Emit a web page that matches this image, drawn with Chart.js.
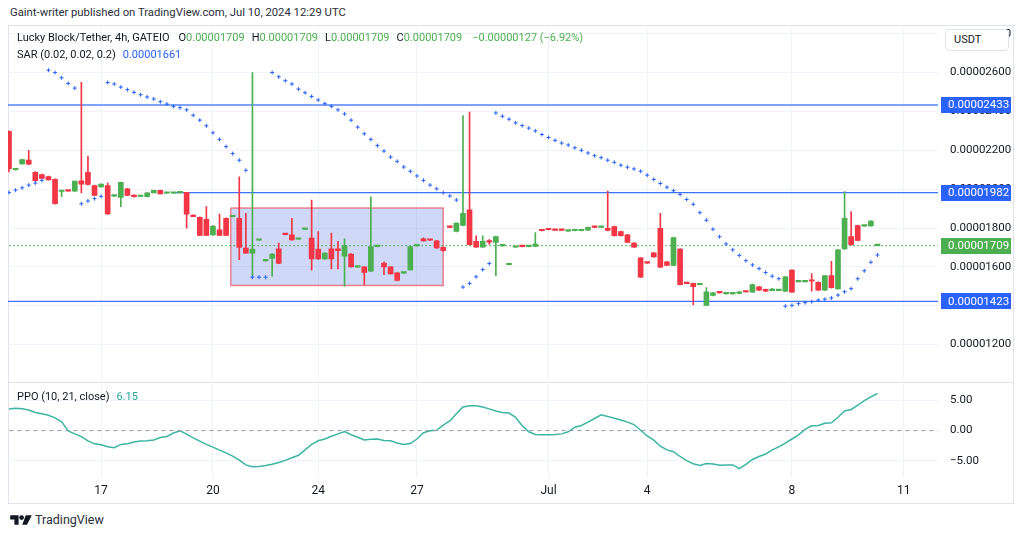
<!DOCTYPE html>
<html>
<head>
<meta charset="utf-8">
<script src="https://cdn.jsdelivr.net/npm/chart.js@4.4.1/dist/chart.umd.min.js"></script>
<style>
  body { margin: 0; width: 1024px; height: 536px; background: #fff; position: relative; overflow: hidden;
         font-family: Roboto, "Open Sans", sans-serif; color: #131722; }
  .abs { position: absolute; white-space: nowrap; }
  #frame { left: 8px; top: 25px; width: 1006px; height: 479px; border: 1px solid #e0e3eb; box-sizing: border-box; }
  #sep { left: 8px; top: 382px; width: 1006px; height: 1px; background: #e0e3eb; }
  #mainWrap { left: 8px; top: 25px; }
  #ppoWrap { left: 8px; top: 383px; }
  .g { color: #4caf50; font-style: normal; }
  .leg { font-size: 11px; color: #131722; }
  .leg span { margin-left: 7px; }
  #usdt { left: 945px; top: 29px; width: 64px; height: 22px; border: 1px solid #e0e3eb; border-radius: 4px;
          box-sizing: border-box; font-size: 11px; line-height: 20px; padding-left: 8px; background: #fff; }
</style>
</head>
<body>
<div class="abs" style="left:10px;top:6px;font-size:11.3px;color:#2a2e39">Gaint-writer published on TradingView.com, Jul 10, 2024 12:29 UTC</div>
<div class="abs" id="frame"></div>
<div class="abs" id="mainWrap"><canvas id="main" width="1005" height="357"></canvas></div>
<div class="abs" id="ppoWrap"><canvas id="ppo" width="1005" height="120"></canvas></div>
<div class="abs" id="sep"></div>
<div class="abs leg" style="left:17px;top:31px">Lucky Block/Tether, 4h, GATEIO<span style="margin-left:9px">O<i class="g">0.00001709</i></span><span>H<i class="g">0.00001709</i></span><span>L<i class="g">0.00001709</i></span><span>C<i class="g">0.00001709</i></span><span class="g" style="margin-left:10px">−0.00000127 (−6.92%)</span></div>
<div class="abs leg" style="left:17px;top:48px">SAR (0.02, 0.02, 0.2)<span style="color:#2962ff">0.00001661</span></div>
<div class="abs leg" style="left:17px;top:390px">PPO (10, 21, close)<span style="color:#26a69a">6.15</span></div>
<div class="abs" id="usdt">USDT</div>
<div class="abs" style="left:10px;top:512px;font-size:12.5px;color:#2a2e39;display:flex;align-items:center">
  <svg width="22" height="12" viewBox="0 0 36 20"><path d="M0 2h14v16H7V9H0z" fill="#131722"/><circle cx="19" cy="6" r="4" fill="#131722"/><path d="M26 2h10l-8 16h-8z" fill="#131722"/></svg>
  <span style="margin-left:3px">TradingView</span>
</div>
<script>
// prices in units of 1e-8 USDT, one entry per 4h bar
const opens = [2297,2100,2130,2149,2087,2075,2065,2051,1988,1993,1990,2043,2087,2019,2012,2019,1964,1958,2002,1970,
  1962,1961,1981,1994,1979,1979,1981,1983,1867,1855,1845,1764,1791,1850,1858,1850,1697,1671,1737,1631,
  1644,1693,1768,1765,1742,1793,1748,1692,1641,1693,1693,1655,1666,1599,1600,1578,1704,1620,1600,1569,
  1568,1585,1708,1745,1739,1734,1700,1805,1782,1813,1893,1731,1702,1729,1726,1708,1611,1701,1706,1704,
  1705,1788,1793,1790,1790,1784,1786,1786,1789,1805,1803,1799,1808,1782,1765,1723,1646,1621,1672,1799,
  1626,1608,1692,1516,1515,1508,1402,1453,1468,1461,1461,1463,1473,1470,1498,1484,1478,1478,1475,1583,
  1523,1523,1528,1521,1480,1555,1487,1692,1756,1813,1810,1811,1709];
const highs = [2300,2106,2155,2200,2090,2077,2067,2053,1993,1994,2042,2549,2169,2021,2027,2032,1968,2037,2004,1971,
  1965,1982,1995,1995,1982,1982,1984,1984,1868,1857,1910,1813,1872,1852,1861,2063,1876,2600,1740,1634,
  1668,1723,1769,1850,1745,1796,1944,1782,1673,1774,1731,1745,1668,1602,1602,1961,1707,1625,1602,1571,
  1571,1707,1711,1750,1740,1736,1702,1806,1827,2379,2396,1760,1760,1740,1758,1711,1614,1704,1707,1707,
  1777,1789,1799,1791,1791,1787,1789,1789,1805,1806,1806,1990,1810,1784,1767,1725,1648,1622,1674,1876,
  1628,1753,1694,1517,1517,1511,1493,1469,1469,1464,1464,1474,1474,1511,1500,1486,1490,1481,1551,1585,
  1526,1526,1565,1523,1557,1629,1690,1987,1885,1815,1813,1838,1709];
const lows = [2089,2098,2128,2126,2040,2053,2046,1923,1961,1989,1988,1981,2020,1966,2010,1870,1963,1910,1966,1959,
  1961,1960,1980,1975,1978,1978,1980,1799,1858,1760,1760,1762,1760,1760,1857,1637,1669,1545,1736,1630,
  1552,1616,1765,1737,1741,1792,1583,1639,1639,1590,1590,1501,1598,1598,1509,1576,1703,1560,1562,1528,
  1566,1583,1707,1732,1736,1695,1681,1802,1780,1811,1712,1700,1700,1715,1555,1707,1610,1700,1703,1703,
  1704,1785,1790,1787,1787,1783,1785,1785,1788,1802,1802,1785,1758,1758,1724,1700,1545,1618,1649,1596,
  1606,1606,1507,1513,1404,1507,1400,1451,1465,1460,1460,1461,1470,1468,1478,1473,1477,1477,1473,1468,
  1522,1522,1475,1478,1478,1491,1485,1690,1712,1734,1809,1809,1709];
const closes = [2106,2104,2152,2128,2043,2055,2048,1925,1992,1990,2041,2026,2024,1968,2026,1872,1967,2035,1968,1961,
  1964,1981,1994,1976,1981,1981,1983,1871,1859,1762,1762,1810,1762,1762,1860,1700,1671,1692,1739,1633,
  1666,1618,1766,1739,1744,1795,1641,1641,1671,1641,1683,1709,1600,1601,1572,1705,1706,1600,1564,1530,
  1570,1705,1710,1734,1737,1697,1683,1803,1825,1876,1714,1702,1731,1727,1756,1710,1613,1703,1704,1706,
  1717,1786,1791,1788,1788,1786,1788,1788,1804,1803,1805,1787,1760,1760,1726,1702,1547,1619,1651,1598,
  1608,1751,1509,1514,1498,1510,1472,1467,1466,1463,1463,1472,1471,1509,1480,1475,1480,1480,1549,1470,
  1525,1525,1526,1480,1555,1493,1688,1850,1714,1736,1812,1836,1709];
const sar = [1983,1995,2007,2021,2031,2045,2612,2600,2573,2544,2520,1925,1939,1951,1963,2549,2541,2525,2512,2498,
  2486,2474,2464,2450,2438,2426,2419,2408,2380,2355,2326,2290,2256,2219,2183,2149,2097,1547,1547,1547,
  2600,2578,2558,2541,2515,2496,2477,2459,2440,2426,2408,2387,2355,2319,2285,2256,2224,2196,2165,2143,
  2114,2092,2068,2045,2021,2002,1982,1965,1944,1496,1515,1549,1586,1617,2392,2375,2360,2341,2327,2314,
  2300,2281,2266,2251,2237,2227,2213,2200,2186,2172,2162,2149,2138,2123,2113,2104,2092,2072,2050,2029,
  2010,1992,1973,1947,1922,1879,1840,1794,1755,1718,1688,1659,1632,1610,1591,1571,1552,1539,1398,1402,
  1411,1416,1421,1429,1434,1440,1455,1472,1488,1539,1580,1624,1661];
const ppo = [3.56,3.7,3.6,3.4,3.0,2.8,2.55,2.1,1.45,-0.05,-0.55,-1.0,-1.7,-2.2,-2.35,-2.7,-2.85,-2.3,-2.2,-1.9,
  -1.75,-1.7,-1.55,-1.15,-0.98,-0.4,-0.05,-0.6,-1.2,-1.75,-2.3,-2.75,-3.25,-3.7,-4.25,-4.9,-5.7,-6.0,-5.95,-5.8,
  -5.6,-5.3,-4.95,-4.5,-4.1,-3.2,-2.3,-1.7,-1.4,-0.95,-0.55,-0.15,-0.7,-1.1,-1.55,-1.45,-1.4,-1.65,-1.7,-2.05,
  -2.3,-2.15,-1.4,-0.35,-0.05,0.05,0.9,1.6,2.8,3.9,4.1,4.1,3.9,3.6,3.25,3.0,2.9,2.2,0.8,-0.2,
  -0.65,-0.7,-0.7,-0.65,-0.55,-0.2,0.55,0.85,1.4,2.0,2.6,2.35,2.05,1.75,1.4,1.0,0.05,-0.9,-1.6,-2.6,
  -3.2,-3.5,-4.3,-5.0,-5.5,-5.8,-5.45,-5.55,-5.75,-5.7,-5.7,-6.3,-5.6,-4.8,-4.3,-3.9,-3.2,-2.7,-2.1,-1.4,
  -0.7,0.2,0.8,0.85,1.2,1.3,2.2,3.25,3.5,4.2,4.95,5.6,6.15];

const dayTicks = [14, 31, 47, 62, 82, 97, 119, 136];
const dayLabels = ['17', '20', '24', '27', 'Jul', '4', '8', '11'];
const priceTicks = [1200, 1400, 1600, 1800, 2000, 2200, 2400, 2600, 2800];
const ppoTicks = [-5, 0, 5];
const levels = [2433, 1982, 1423];
const levelStart = [-1, 25, -1];
const lastPrice = 1709;
const boxIdx = [33.7, 66];
const boxPrice = [1504, 1903];

const X_MIN = -0.15, X_MAX = 141.2;
const UP = '#4caf50', DOWN = '#f23645', BLUE = '#2962ff', GRID = '#f0f3fa';
const fmt = v => (v / 1e8).toFixed(8);
const colors = opens.map((o, i) => closes[i] >= o ? UP : DOWN);
const AXIS_W = 75;

const xScale = (showLabels) => ({
  type: 'linear', min: X_MIN, max: X_MAX, offset: false,
  grid: { color: GRID, drawTicks: false, offset: false },
  border: { display: false },
  afterBuildTicks: s => { s.ticks = dayTicks.map(v => ({ value: v })); },
  afterFit: s => { s.height = showLabels ? 25 : 0; },
  ticks: {
    display: showLabels, color: '#131722', padding: 6, maxRotation: 0, autoSkip: false,
    font: { size: 12, family: 'Roboto' },
    callback: v => dayLabels[dayTicks.indexOf(v)]
  }
});

// right axis: labels pushed out with an invisible tick mark so no extra vertical padding is added
const yScale = (min, max, ticks, gridColor, format) => ({
  type: 'linear', position: 'right', min, max,
  grid: { color: gridColor, drawTicks: true, tickLength: 12, tickColor: 'rgba(0,0,0,0)' },
  border: { display: false },
  afterBuildTicks: s => { s.ticks = ticks.map(v => ({ value: v })); },
  afterFit: s => { s.width = AXIS_W; },
  ticks: { color: '#131722', padding: 0, font: { size: 11.5, lineHeight: 0.2 }, callback: format }
});

Chart.defaults.font.family = 'Roboto';

// price boxes on the right axis
const priceTags = {
  id: 'priceTags',
  afterDraw(chart) {
    const { ctx, chartArea, scales } = chart;
    const tags = levels.map(v => [v, BLUE]).concat([[lastPrice, UP]]);
    ctx.save();
    ctx.font = '11.5px Roboto';
    ctx.textBaseline = 'middle';
    tags.forEach(([v, c]) => {
      const y = scales.y.getPixelForValue(v);
      ctx.fillStyle = c;
      ctx.fillRect(chartArea.right + 3, Math.round(y) - 8, 70, 16);
      ctx.fillStyle = '#fff';
      ctx.fillText(fmt(v), chartArea.right + 10, y + 0.5);
    });
    ctx.restore();
  }
};

new Chart(document.getElementById('main'), {
  type: 'bar',
  data: {
    datasets: [
      {
        type: 'scatter', order: 10, showLine: true, fill: 'shape',
        data: [
          { x: boxIdx[0], y: boxPrice[1] }, { x: boxIdx[1], y: boxPrice[1] },
          { x: boxIdx[1], y: boxPrice[0] }, { x: boxIdx[0], y: boxPrice[0] },
          { x: boxIdx[0], y: boxPrice[1] }
        ],
        borderColor: 'rgba(242,54,69,0.6)', borderWidth: 1.5,
        backgroundColor: 'rgba(70,105,220,0.26)', pointRadius: 0
      },
      ...levels.map((v, k) => ({
        type: 'line', order: 6,
        data: [{ x: levelStart[k], y: v }, { x: X_MAX + 1, y: v }],
        borderColor: k === 0 ? 'rgba(41,98,255,0.6)' : 'rgba(41,98,255,0.9)',
        borderWidth: k === 0 ? 2.2 : 1.3, pointRadius: 0
      })),
      {
        type: 'line', order: 5,
        data: [{ x: X_MIN - 1, y: lastPrice }, { x: X_MAX + 1, y: lastPrice }],
        borderColor: UP, borderWidth: 1.2, borderDash: [1.5, 2.5], pointRadius: 0
      },
      {
        type: 'bar', order: 3, grouped: false, barThickness: 1,
        data: opens.map((o, i) => ({ x: i, y: [lows[i], highs[i]] })),
        backgroundColor: colors
      },
      {
        type: 'bar', order: 2, grouped: false, barThickness: 5, minBarLength: 1.5,
        data: opens.map((o, i) => ({ x: i, y: [o, closes[i]] })),
        backgroundColor: colors
      },
      {
        type: 'scatter', order: 1,
        data: sar.map((v, i) => ({ x: i, y: v })),
        pointStyle: 'cross', pointRadius: 2, borderWidth: 1, borderColor: BLUE, backgroundColor: BLUE
      }
    ]
  },
  options: {
    responsive: false, animation: false,
    layout: { padding: 0, autoPadding: false },
    plugins: { legend: { display: false }, tooltip: { enabled: false } },
    scales: {
      x: xScale(false),
      y: yScale(1013.6, 2838.7, priceTicks, GRID, v => fmt(v))
    }
  },
  plugins: [priceTags]
});

new Chart(document.getElementById('ppo'), {
  type: 'line',
  data: {
    datasets: [
      {
        data: [{ x: X_MIN - 1, y: 0 }, { x: X_MAX + 1, y: 0 }],
        borderColor: '#9598a1', borderWidth: 1, borderDash: [4, 4], pointRadius: 0
      },
      {
        data: ppo.map((v, i) => ({ x: i, y: v })),
        borderColor: '#3cb4a4', borderWidth: 1.5, pointRadius: 0, tension: 0
      }
    ]
  },
  options: {
    responsive: false, animation: false,
    layout: { padding: 0, autoPadding: false },
    plugins: { legend: { display: false }, tooltip: { enabled: false } },
    scales: {
      x: xScale(true),
      y: yScale(-7.87, 7.7, ppoTicks, c => c.tick && c.tick.value === 0 ? 'rgba(0,0,0,0)' : GRID,
                v => (v < 0 ? '−' + Math.abs(v).toFixed(2) : v.toFixed(2)))
    }
  }
});
</script>
</body>
</html>
